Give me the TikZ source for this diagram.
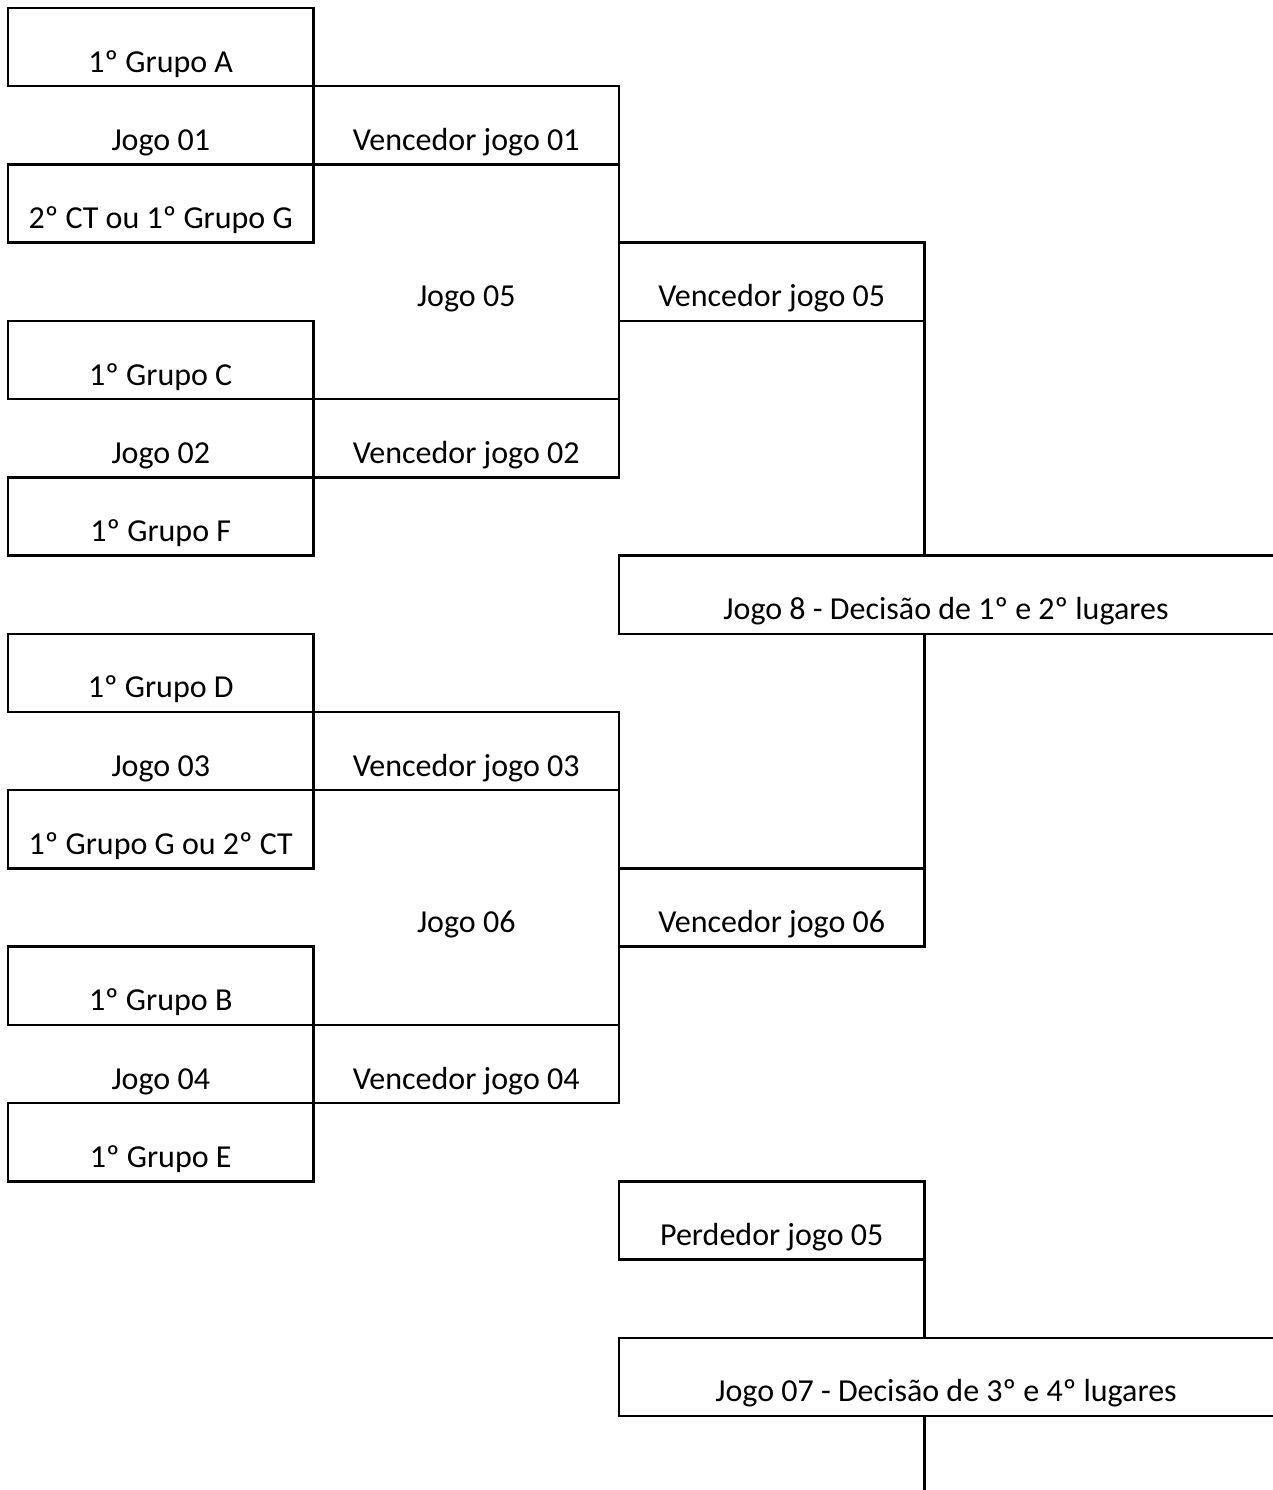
\documentclass[tikz,border=0pt]{standalone}
\usepackage{fontspec}
\setmainfont{Carlito}
\usetikzlibrary{positioning}

\tikzset{
	slot/.style={draw, line width=1.2pt, minimum width=152.75pt, minimum height=39.11pt,
		inner sep=0pt, outer sep=0pt, text height=25pt, text depth=0pt,
		font=\fontsize{16}{19}\selectfont},
	game/.style={slot, draw=none},
	final/.style={slot, draw=none, minimum width=327pt, anchor=west},
	bracket/.style={line width=1.2pt},
}

\begin{document}
\begin{tikzpicture}[x=0.5pt,y=-0.5pt]
	\useasboundingbox (0,0) rectangle (1273,1490);
	% first column, groups and first games
	\node[slot] (gA) at (160.75,47.11) {1º Grupo A};
	\node[game] (j01) at (160.75,125.33) {Jogo 01};
	\node[slot] (gCT) at (160.75,203.56) {2º CT ou 1º Grupo G};
	\node[slot] (gC) at (160.75,360.00) {1º Grupo C};
	\node[game] (j02) at (160.75,438.22) {Jogo 02};
	\node[slot] (gF) at (160.75,516.44) {1º Grupo F};
	\node[slot] (gD) at (160.75,672.89) {1º Grupo D};
	\node[game] (j03) at (160.75,751.11) {Jogo 03};
	\node[slot] (gG) at (160.75,829.33) {1º Grupo G ou 2º CT};
	\node[slot] (gB) at (160.75,985.78) {1º Grupo B};
	\node[game] (j04) at (160.75,1064.00) {Jogo 04};
	\node[slot] (gE) at (160.75,1142.22) {1º Grupo E};
	% second column, winners of the first games
	\node[slot, right=0pt of j01] (v01) {Vencedor jogo 01};
	\node[game] (j05) at (466.25,281.78) {Jogo 05};
	\node[slot, right=0pt of j02] (v02) {Vencedor jogo 02};
	\node[slot, right=0pt of j03] (v03) {Vencedor jogo 03};
	\node[game] (j06) at (466.25,907.56) {Jogo 06};
	\node[slot, right=0pt of j04] (v04) {Vencedor jogo 04};
	% third column, semifinal winners, loser and the two decisions
	\node[slot, right=0pt of j05] (v05) {Vencedor jogo 05};
	\node[slot, right=0pt of j06] (v06) {Vencedor jogo 06};
	\node[final] (j8) at (619,594.67) {Jogo 8 - Decisão de 1º e 2º lugares};
	\node[slot] (p05) at (771.75,1220.44) {Perdedor jogo 05};
	\node[final] (j07) at (619,1376.89) {Jogo 07 - Decisão de 3º e 4º lugares};
	\coordinate (fim) at (924.5,1490);% bottom end of the last line
	% open boxes running off to the right
	\draw[bracket] (j8.north east) -- (j8.north west) -- (j8.south west) -- (j8.south east);
	\draw[bracket] (j07.north east) -- (j07.north west) -- (j07.south west) -- (j07.south east);
	% bracket lines
	\draw[bracket] (v01.south east) -- (v02.north east);
	\draw[bracket] (v03.south east) -- (v04.north east);
	\draw[bracket] (v05.south east) -- (v05.south east |- j8.north);
	\draw[bracket] (v05.east |- j8.south) -- (v06.north east);
	\draw[bracket] (p05.south east) -- (p05.south east |- j07.north);
	\draw[bracket] (p05.east |- j07.south) -- (fim);
\end{tikzpicture}
\end{document}
